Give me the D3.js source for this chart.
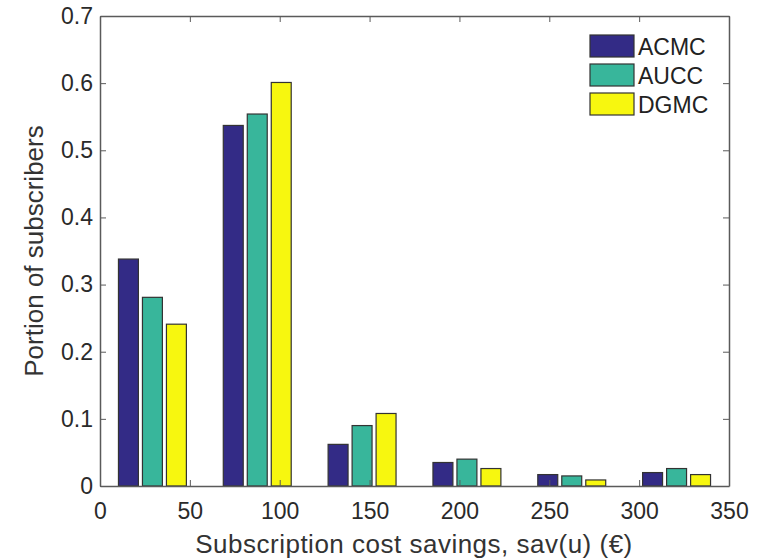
<!DOCTYPE html>
<html><head><meta charset="utf-8">
<script src="https://cdn.jsdelivr.net/npm/d3@7"></script>
<style>body{margin:0;background:#fff}text{font-family:"Liberation Sans",Arial,Helvetica,sans-serif}</style>
</head><body><svg id="c" width="768" height="560"></svg>
<script>
const binCenters = [29.17, 87.5, 145.83, 204.17, 262.5, 320.83];
const seriesNames = ["ACMC", "AUCC", "DGMC"];
const acmc = [0.338, 0.537, 0.062, 0.035, 0.017, 0.020];
const aucc = [0.281, 0.554, 0.090, 0.040, 0.015, 0.026];
const dgmc = [0.241, 0.601, 0.108, 0.026, 0.009, 0.017];
const xTicks = [0, 50, 100, 150, 200, 250, 300, 350];
const yTicks = [0, 0.1, 0.2, 0.3, 0.4, 0.5, 0.6, 0.7];
const colors = ["#332b86", "#38b69b", "#f7f70f"];

const series = [acmc, aucc, dgmc];
const svg = d3.select("#c");
const L = 100, R = 729, T = 16, B = 486;
const x = d3.scaleLinear().domain([0, 350]).range([L, R]);
const y = d3.scaleLinear().domain([0, 0.7]).range([B, T]);
const axisCol = "#5a5a5a";

const barW = 11.1, barStep = 13.35;
const g = svg.append("g");
series.forEach((s, si) => {
  g.selectAll(null).data(s).enter().append("rect")
    .attr("x", (d, i) => x(binCenters[i] + (si - 1) * barStep - barW / 2))
    .attr("width", x(barW) - x(0))
    .attr("y", d => y(d))
    .attr("height", d => y(0) - y(d))
    .attr("fill", colors[si])
    .attr("stroke", "#333").attr("stroke-width", 1.2);
});

function styleAxis(sel, labels) {
  sel.select(".domain").attr("stroke", axisCol).attr("stroke-width", 1.5);
  sel.selectAll(".tick line").attr("stroke", axisCol);
  if (labels) sel.selectAll(".tick text").attr("fill", "#2a2a2a").style("font-size", "23px");
  else sel.selectAll(".tick text").remove();
  sel.attr("font-family", null);
}
const ax = svg.append("g").attr("transform", `translate(0,${B})`)
  .call(d3.axisBottom(x).tickValues(xTicks).tickFormat(d3.format("d")).tickSizeInner(-6).tickSizeOuter(0).tickPadding(17));
styleAxis(ax, true);
const axT = svg.append("g").attr("transform", `translate(0,${T})`)
  .call(d3.axisTop(x).tickValues(xTicks).tickSizeInner(-6).tickSizeOuter(0));
styleAxis(axT, false);
const ay = svg.append("g").attr("transform", `translate(${L},0)`)
  .call(d3.axisLeft(y).tickValues(yTicks).tickFormat(d => d === 0 ? "0" : d3.format(".1f")(d)).tickSizeInner(-6).tickSizeOuter(0).tickPadding(7));
styleAxis(ay, true);
const ayR = svg.append("g").attr("transform", `translate(${R},0)`)
  .call(d3.axisRight(y).tickValues(yTicks).tickSizeInner(-6).tickSizeOuter(0));
styleAxis(ayR, false);

svg.append("text").attr("x", 414).attr("y", 553).attr("text-anchor", "middle")
  .style("font-size", "26px").style("letter-spacing", "0.5px").attr("fill", "#333").text("Subscription cost savings, sav(u) (€)");
svg.append("text").attr("transform", `translate(43,251) rotate(-90)`).attr("text-anchor", "middle")
  .style("font-size", "26px").attr("fill", "#333").text("Portion of subscribers");

const lg = svg.append("g").attr("transform", "translate(590,35)");
seriesNames.forEach((n, i) => {
  lg.append("rect").attr("x", 0).attr("y", i * 29).attr("width", 44).attr("height", 22)
    .attr("fill", colors[i]).attr("stroke", "#333").attr("stroke-width", 1.2);
  lg.append("text").attr("x", 48).attr("y", i * 29 + 19.5).style("font-size", "23px").attr("fill", "#222").text(n);
});
</script></body></html>
